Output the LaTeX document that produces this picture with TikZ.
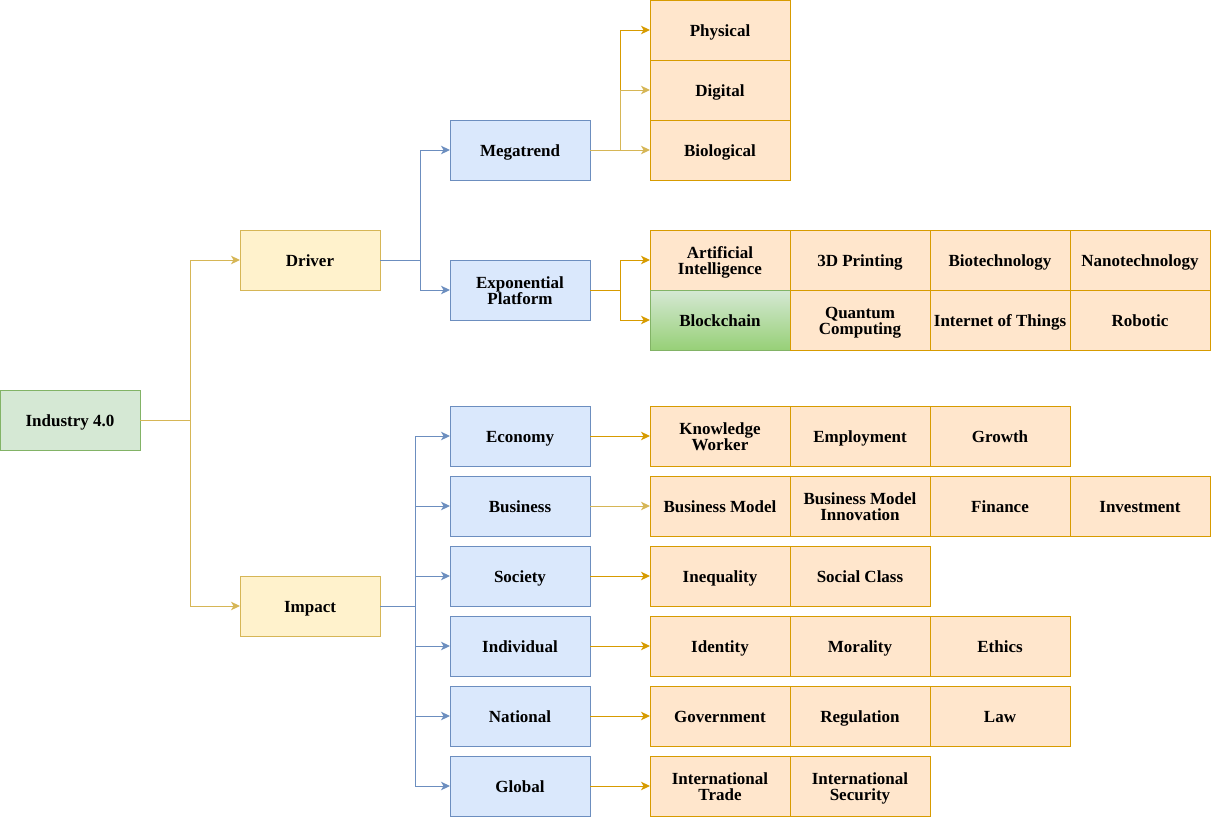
\documentclass[tikz,border=0pt]{standalone}
\usepackage{fontspec}
\setmainfont{Liberation Serif}
\usetikzlibrary{arrows.meta,chains}

\definecolor{BlueFill}{HTML}{DAE8FC}
\definecolor{BlueLine}{HTML}{6C8EBF}
\definecolor{YellowFill}{HTML}{FFF2CC}
\definecolor{YellowLine}{HTML}{D6B656}
\definecolor{GreenFill}{HTML}{D5E8D4}
\definecolor{GreenLine}{HTML}{82B366}
\definecolor{GreenDark}{HTML}{97D077}
\definecolor{OrangeFill}{HTML}{FFE6CC}
\definecolor{OrangeLine}{HTML}{D79B00}

\newcommand{\TopStrut}{\rule{0pt}{17pt}}

\begin{document}
\begin{tikzpicture}[
	x=1pt, y=-1pt,
	node distance = 0pt,
	font=\bfseries\fontsize{17}{16}\selectfont,
	MyStyle/.style={draw, minimum width=140pt, minimum height=60pt,
		outer sep=0pt, inner sep=0pt, line width=1pt, align=center,
		execute at begin node=\TopStrut,
		execute at end node=\rule[-5pt]{0pt}{5pt}},
	BlueStyle/.style={MyStyle, fill=BlueFill, draw=BlueLine},
	YellowStyle/.style={MyStyle, fill=YellowFill, draw=YellowLine},
	GreenStyle/.style={MyStyle, fill=GreenFill, draw=GreenLine},
	OrangeStyle/.style={MyStyle, fill=OrangeFill, draw=OrangeLine, on chain},
	MyArrow/.style={line width=1pt, -{Stealth[length=9pt, width=8.5pt, inset=2.5pt]}},
	]
	\useasboundingbox (0,0) rectangle (1211,817);

	% main tree
	\node [GreenStyle] (ind) at (70,420) {Industry 4.0};
	\node [YellowStyle] (drv) at (310,260) {Driver};
	\node [YellowStyle] (imp) at (310,606) {Impact};
	\node [BlueStyle] (mega) at (520,150) {Megatrend};
	\node [BlueStyle] (expo) at (520,290) {\TopStrut Exponential\\Platform};
	\node [BlueStyle] (eco) at (520,436) {Economy};
	\node [BlueStyle] (bus) at (520,506) {Business};
	\node [BlueStyle] (soc) at (520,576) {Society};
	\node [BlueStyle] (indv) at (520,646) {Individual};
	\node [BlueStyle] (nat) at (520,716) {National};
	\node [BlueStyle] (glob) at (520,786) {Global};

	% megatrend column
	\begin{scope}[start chain = mchain going below]
	\node [OrangeStyle] (phys) at (720,30) {Physical};
	\node [OrangeStyle] (digi) {Digital};
	\node [OrangeStyle] (bio) {Biological};
	\end{scope}

	% platform rows
	\begin{scope}[start chain = pchain going right]
	\node [OrangeStyle] (ai) at (720,260) {\TopStrut Artificial\\Intelligence};
	\node [OrangeStyle] (print) {3D Printing};
	\node [OrangeStyle] (biotech) {Biotechnology};
	\node [OrangeStyle] (nano) {Nanotechnology};
	\end{scope}
	\begin{scope}[start chain = qchain going right]
	\node [MyStyle, top color=GreenFill, bottom color=GreenDark,
		draw=GreenLine, on chain] (block) at (720,320) {Blockchain};
	\node [OrangeStyle] (quant) {\TopStrut Quantum\\Computing};
	\node [OrangeStyle] (iot) {Internet of Things};
	\node [OrangeStyle] (robot) {Robotic};
	\end{scope}

	% impact rows
	\begin{scope}[start chain = echain going right]
	\node [OrangeStyle] (know) at (720,436) {\TopStrut Knowledge\\Worker};
	\node [OrangeStyle] (empl) {Employment};
	\node [OrangeStyle] (grow) {Growth};
	\end{scope}
	\begin{scope}[start chain = bchain going right]
	\node [OrangeStyle] (bmod) at (720,506) {Business Model};
	\node [OrangeStyle] (bmi) {\TopStrut Business Model\\Innovation};
	\node [OrangeStyle] (fin) {Finance};
	\node [OrangeStyle] (inv) {Investment};
	\end{scope}
	\begin{scope}[start chain = schain going right]
	\node [OrangeStyle] (ineq) at (720,576) {Inequality};
	\node [OrangeStyle] (scls) {Social Class};
	\end{scope}
	\begin{scope}[start chain = ichain going right]
	\node [OrangeStyle] (iden) at (720,646) {Identity};
	\node [OrangeStyle] (mor) {Morality};
	\node [OrangeStyle] (eth) {Ethics};
	\end{scope}
	\begin{scope}[start chain = nchain going right]
	\node [OrangeStyle] (gov) at (720,716) {Government};
	\node [OrangeStyle] (reg) {Regulation};
	\node [OrangeStyle] (law) {Law};
	\end{scope}
	\begin{scope}[start chain = gchain going right]
	\node [OrangeStyle] (itrade) at (720,786) {\TopStrut International\\Trade};
	\node [OrangeStyle] (isec) {\TopStrut International\\Security};
	\end{scope}

	% junctions
	\coordinate (j1) at (190,420);
	\coordinate (j2) at (420,260);
	\coordinate (j3) at (620,150);
	\coordinate (j4) at (620,290);
	\coordinate (j5) at (415,606);

	% connectors
	\draw[MyArrow, YellowLine] (ind.east) -- (j1) |- (drv.west);
	\draw[MyArrow, YellowLine] (ind.east) -- (j1) |- (imp.west);
	\draw[MyArrow, BlueLine] (drv.east) -- (j2) |- (mega.west);
	\draw[MyArrow, BlueLine] (drv.east) -- (j2) |- (expo.west);
	\draw[MyArrow, OrangeLine] (mega.east) -- (j3) |- (phys.west);
	\draw[MyArrow, YellowLine] (mega.east) -- (j3) |- (digi.west);
	\draw[MyArrow, YellowLine] (mega.east) -- (bio.west);
	\draw[MyArrow, OrangeLine] (expo.east) -- (j4) |- (ai.west);
	\draw[MyArrow, OrangeLine] (expo.east) -- (j4) |- (block.west);
	\draw[MyArrow, BlueLine] (imp.east) -- (j5) |- (eco.west);
	\draw[MyArrow, BlueLine] (imp.east) -- (j5) |- (bus.west);
	\draw[MyArrow, BlueLine] (imp.east) -- (j5) |- (soc.west);
	\draw[MyArrow, BlueLine] (imp.east) -- (j5) |- (indv.west);
	\draw[MyArrow, BlueLine] (imp.east) -- (j5) |- (nat.west);
	\draw[MyArrow, BlueLine] (imp.east) -- (j5) |- (glob.west);
	\draw[MyArrow, OrangeLine] (eco.east) -- (know.west);
	\draw[MyArrow, YellowLine] (bus.east) -- (bmod.west);
	\draw[MyArrow, OrangeLine] (soc.east) -- (ineq.west);
	\draw[MyArrow, OrangeLine] (indv.east) -- (iden.west);
	\draw[MyArrow, OrangeLine] (nat.east) -- (gov.west);
	\draw[MyArrow, OrangeLine] (glob.east) -- (itrade.west);
\end{tikzpicture}
\end{document}
